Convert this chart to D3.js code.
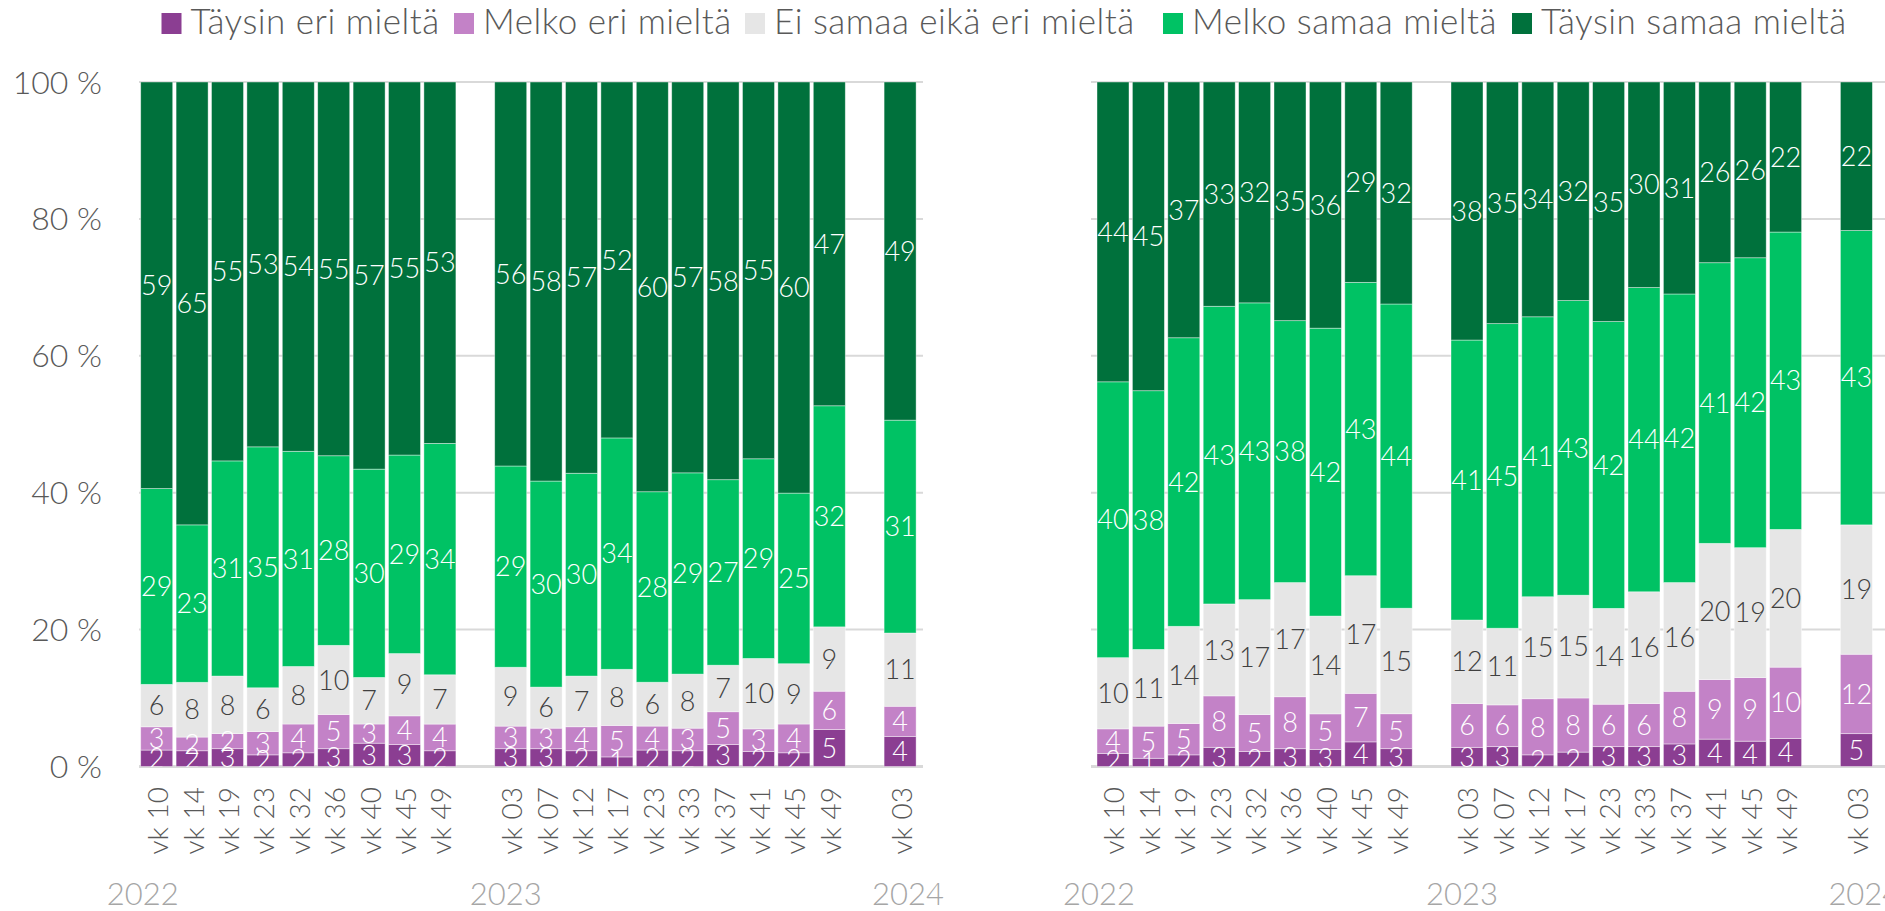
<!DOCTYPE html>
<html>
<meta charset="utf-8">
<head>
  <title>Mielipiteet viikoittain</title>
</head>

<style>
body {
  margin: 0;
  background: #ffffff;
}
text {
  font-family: Lato, "Open Sans", sans-serif;
}
.legend text, .yaxis text, .xaxis text {
  font-weight: 300;
  fill: #595959;
}
.year {
  font-weight: 300;
  fill: #a6a6a6;
  font-size: 31px;
}
.label {
  font-size: 27px;
  font-weight: 300;
  text-anchor: middle;
}
</style>

<body>
  <div id="chart"></div>

  <script src="https://d3js.org/d3.v7.min.js"></script>
  <script>

var years = ["2022", "2023", "2024"];
var weeks2022 = ["vk 10", "vk 14", "vk 19", "vk 23", "vk 32", "vk 36", "vk 40", "vk 45", "vk 49"];
var weeks2023 = ["vk 03", "vk 07", "vk 12", "vk 17", "vk 23", "vk 33", "vk 37", "vk 41", "vk 45", "vk 49"];
var weeks2024 = ["vk 03"];

var seriesNames = ["Täysin eri mieltä", "Melko eri mieltä", "Ei samaa eikä eri mieltä", "Melko samaa mieltä", "Täysin samaa mieltä"];
var seriesColors = ["#8b3e92", "#c382c7", "#e6e6e6", "#00c264", "#00713c"];
var yTicks = [0, 20, 40, 60, 80, 100];

// left chart, % (2022 x9, 2023 x10, 2024 x1)
var leftTaysinEri   = [2.4, 2.3, 2.6, 1.7, 2.0, 2.6, 3.4, 3.2, 2.3,  2.6, 2.6, 2.3, 1.4, 2.4, 2.3, 3.2, 2.2, 2.0, 5.4,  4.4];
var leftMelkoEri    = [3.4, 2.0, 2.2, 3.4, 4.2, 5.0, 2.8, 4.2, 3.9,  3.3, 3.0, 3.5, 4.6, 3.5, 3.3, 4.8, 3.3, 4.2, 5.6,  4.4];
var leftEiSamaa     = [6.2, 8.0, 8.4, 6.4, 8.4, 10.1, 6.8, 9.1, 7.2,  8.6, 6.0, 7.4, 8.2, 6.4, 7.9, 6.8, 10.3, 8.8, 9.4,  10.7];
var leftMelkoSamaa  = [28.6, 23.0, 31.4, 35.2, 31.4, 27.7, 30.4, 29.0, 33.8,  29.4, 30.1, 29.6, 33.8, 27.8, 29.4, 27.1, 29.2, 24.9, 32.3,  31.1];
var leftTaysinSamaa = [59.4, 64.7, 55.3, 53.3, 53.9, 54.6, 56.5, 54.5, 52.8,  56.1, 58.3, 57.1, 52.0, 59.8, 57.1, 58.1, 55.1, 60.0, 47.3,  49.4];

// right chart, %
var rightTaysinEri   = [1.9, 1.2, 1.7, 2.8, 2.2, 2.6, 2.5, 3.6, 2.6,  2.8, 2.9, 1.7, 2.1, 2.9, 2.9, 3.3, 4.0, 3.7, 4.1,  4.8];
var rightMelkoEri    = [3.6, 4.7, 4.6, 7.5, 5.4, 7.6, 5.2, 7.1, 5.1,  6.4, 6.1, 8.2, 7.9, 6.2, 6.3, 7.7, 8.7, 9.3, 10.4,  11.6];
var rightEiSamaa     = [10.4, 11.2, 14.2, 13.4, 16.8, 16.7, 14.3, 17.2, 15.4,  12.2, 11.2, 14.9, 15.0, 14.0, 16.3, 15.9, 19.9, 19.0, 20.1,  18.9];
var rightMelkoSamaa  = [40.3, 37.8, 42.2, 43.4, 43.4, 38.3, 42.1, 42.9, 44.4,  40.9, 44.5, 40.9, 43.0, 41.9, 44.4, 42.2, 41.0, 42.4, 43.4,  43.0];
var rightTaysinSamaa = [43.8, 45.1, 37.4, 32.7, 32.3, 34.9, 36.0, 29.3, 32.4,  37.7, 35.3, 34.3, 31.9, 35.0, 30.0, 31.0, 26.4, 25.7, 21.9,  21.7];

var groups = [
  {year: years[0], weeks: weeks2022},
  {year: years[1], weeks: weeks2023},
  {year: years[2], weeks: weeks2024}
];

// category slots, with an empty slot between the years
var slots = [];
var cats = [];
groups.forEach(function(g, gi) {
  if (gi > 0) slots.push("gap" + gi);
  g.weeks.forEach(function(w) {
    var key = g.year + "|" + w;
    slots.push(key);
    cats.push({key: key, week: w, year: g.year});
  });
});

var keys = ["s0", "s1", "s2", "s3", "s4"];

function buildRows(arrays) {
  return cats.map(function(c, i) {
    var row = {key: c.key};
    arrays.forEach(function(a, j) { row[keys[j]] = a[i]; });
    return row;
  });
}

var leftRows = buildRows([leftTaysinEri, leftMelkoEri, leftEiSamaa, leftMelkoSamaa, leftTaysinSamaa]);
var rightRows = buildRows([rightTaysinEri, rightMelkoEri, rightEiSamaa, rightMelkoSamaa, rightTaysinSamaa]);

const W = 1885, H = 911;
const svg = d3.select("#chart")
  .append("svg")
  .attr("width", W)
  .attr("height", H);

var y = d3.scaleLinear().domain([0, 1]).range([766.5, 82]);

svg.append("defs").append("clipPath")
  .attr("id", "plotclip")
  .append("rect")
  .attr("x", 0).attr("y", 0)
  .attr("width", W).attr("height", 767);

var stack = d3.stack().keys(keys).offset(d3.stackOffsetExpand);
var step = 35.4;

function drawPanel(rows, x0, gridStart, gridEnd, showY) {
  var x = d3.scaleBand()
    .domain(slots)
    .range([x0, x0 + slots.length * step])
    .paddingInner(0.096)
    .paddingOuter(0.048);

  const g = svg.append("g");

  // gridlines
  g.append("g")
    .selectAll("line")
    .data(yTicks)
    .enter()
    .append("line")
    .attr("x1", gridStart)
    .attr("x2", gridEnd)
    .attr("y1", function(d) { return y(d / 100); })
    .attr("y2", function(d) { return y(d / 100); })
    .attr("stroke", "#d9d9d9")
    .attr("stroke-width", function(d) { return d === 0 ? 3 : 2; });

  if (showY) {
    g.append("g")
      .attr("class", "yaxis")
      .selectAll("text")
      .data(yTicks)
      .enter()
      .append("text")
      .attr("x", 102)
      .attr("y", function(d) { return y(d / 100); })
      .attr("dy", "0.36em")
      .attr("text-anchor", "end")
      .style("font-size", "32px")
      .text(function(d) { return d + " %"; });
  }

  var stacked = stack(rows);

  var layer = g.append("g")
    .selectAll("g")
    .data(stacked)
    .enter()
    .append("g")
    .attr("fill", function(d, i) { return seriesColors[i]; });

  layer.selectAll("rect")
    .data(function(d) { return d; })
    .enter()
    .append("rect")
    .attr("x", function(d) { return x(d.data.key); })
    .attr("width", x.bandwidth())
    .attr("y", function(d) { return y(d[1]); })
    .attr("height", function(d) { return y(d[0]) - y(d[1]); })
    .attr("stroke", "#ffffff")
    .attr("stroke-opacity", 0.5)
    .attr("stroke-width", 0.8);

  // data labels (clipped at the plot bottom, like the original)
  var labels = g.append("g").attr("clip-path", "url(#plotclip)");
  stacked.forEach(function(s, si) {
    labels.append("g")
      .selectAll("text")
      .data(s)
      .enter()
      .append("text")
      .attr("class", "label")
      .attr("x", function(d) { return x(d.data.key) + x.bandwidth() / 2; })
      .attr("y", function(d) { return (y(d[0]) + y(d[1])) / 2; })
      .attr("dy", "0.36em")
      .attr("fill", si === 2 ? "#404040" : "#ffffff")
      .text(function(d) { return Math.round(d.data[s.key]); });
  });

  // week labels
  g.append("g")
    .attr("class", "xaxis")
    .selectAll("text")
    .data(cats)
    .enter()
    .append("text")
    .attr("transform", function(d) {
      return "translate(" + (x(d.key) + x.bandwidth() / 2) + ",787) rotate(-90)";
    })
    .attr("dy", "0.41em")
    .attr("text-anchor", "end")
    .style("font-size", "28px")
    .text(function(d) { return d.week; });

  // year labels, a little left of each year's first bar
  var yearShift = [-34, -25, -12];
  g.append("g")
    .selectAll("text")
    .data(groups)
    .enter()
    .append("text")
    .attr("class", "year")
    .attr("x", function(d, i) { return x(d.year + "|" + d.weeks[0]) + yearShift[i]; })
    .attr("y", 905)
    .text(function(d) { return d.year; });
}

drawPanel(leftRows, 139, 139, 923, true);
drawPanel(rightRows, 1095.3, 1091, W, false);

// legend
var legendX = [161.5, 454, 745, 1163, 1512];
var legend = svg.append("g")
  .attr("class", "legend")
  .selectAll("g")
  .data(seriesNames)
  .enter()
  .append("g")
  .attr("transform", function(d, i) { return "translate(" + legendX[i] + ",0)"; });

legend.append("rect")
  .attr("x", 0)
  .attr("y", 13)
  .attr("width", 20)
  .attr("height", 21)
  .attr("fill", function(d, i) { return seriesColors[i]; });

legend.append("text")
  .attr("x", 29)
  .attr("y", 33.5)
  .style("font-size", "35px")
  .style("letter-spacing", "0.5px")
  .text(function(d) { return d; });

  </script>
</body>
</html>
